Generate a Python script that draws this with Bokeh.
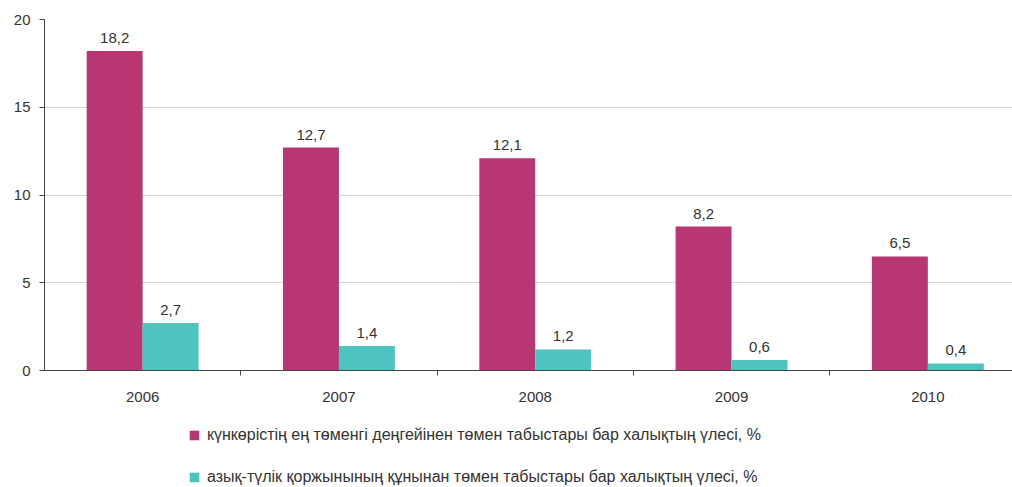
from bokeh.plotting import figure
from bokeh.layouts import column
from bokeh.models import ColumnDataSource, FixedTicker, Range1d, Legend, LegendItem
from bokeh.core.properties import value
from bokeh.embed import file_html
from bokeh.resources import INLINE

years = ["2006", "2007", "2008", "2009", "2010"]
poverty = [18.2, 12.7, 12.1, 8.2, 6.5]
food = [2.7, 1.4, 1.2, 0.6, 0.4]
series_names = [
    "күнкөрістің ең төменгі деңгейінен төмен табыстары бар халықтың үлесі, %",
    "азық-түлік қоржынының құнынан төмен табыстары бар халықтың үлесі, %",
]
y_ticks = [0, 5, 10, 15, 20]

C1 = "#B83773"
C2 = "#4EC4C0"
FONT = "Liberation Sans"
TXT = "#333333"

centers = [i + 0.5 for i in range(len(years))]
bw = 0.285
fmt = lambda v: f"{v:.1f}".replace(".", ",")

s1 = ColumnDataSource(dict(x=[c - bw / 2 for c in centers], y=poverty, lab=[fmt(v) for v in poverty]))
s2 = ColumnDataSource(dict(x=[c + bw / 2 for c in centers], y=food, lab=[fmt(v) for v in food]))

p = figure(width=1012, height=415, output_backend="svg", toolbar_location=None,
           x_range=Range1d(0, 968 / 196.3), y_range=Range1d(0, 20),
           min_border_left=44, min_border_top=19, min_border_right=0, min_border_bottom=45)
p.outline_line_color = None
p.background_fill_color = None
p.border_fill_color = "white"

p.vbar(x="x", top="y", width=bw, source=s1, fill_color=C1, line_color=None)
p.vbar(x="x", top="y", width=bw, source=s2, fill_color=C2, line_color=None)

for s in (s1, s2):
    p.text(x="x", y="y", text="lab", source=s, text_align="center", text_baseline="bottom",
           y_offset=-8, text_font=value(FONT), text_font_size="15px", text_color=TXT)

# axes
p.xgrid.visible = False
p.ygrid.grid_line_color = "#d4d4d4"
p.ygrid.ticker = FixedTicker(ticks=y_ticks[1:])

p.yaxis.ticker = FixedTicker(ticks=y_ticks)
p.yaxis.major_tick_out = 5
p.yaxis.major_tick_in = 0
p.yaxis.minor_tick_line_color = None
p.yaxis.axis_line_color = "#444444"
p.yaxis.major_tick_line_color = "#444444"
p.yaxis.major_label_text_font = FONT
p.yaxis.major_label_text_font_size = "15px"
p.yaxis.major_label_text_color = TXT
p.yaxis.major_label_standoff = 9

p.xaxis.ticker = FixedTicker(ticks=centers, minor_ticks=list(range(1, len(years))))
p.xaxis.major_label_overrides = {c: y for c, y in zip(centers, years)}
p.xaxis.major_tick_line_color = None
p.xaxis.major_tick_out = 5
p.xaxis.minor_tick_out = 5
p.xaxis.minor_tick_in = 0
p.xaxis.minor_tick_line_color = "#444444"
p.xaxis.axis_line_color = "#444444"
p.xaxis.major_label_text_font = FONT
p.xaxis.major_label_text_font_size = "15px"
p.xaxis.major_label_text_color = TXT
p.xaxis.major_label_standoff = 16

# legend panel below the chart (bars there fall outside its visible range)
lg = figure(width=1012, height=72, output_backend="svg", toolbar_location=None,
            x_range=Range1d(0, 968 / 196.3), y_range=Range1d(100, 101),
            x_axis_location=None, y_axis_location=None,
            min_border_left=44, min_border_right=0, min_border_top=0, min_border_bottom=0)
lg.outline_line_color = None
lg.grid.visible = False
lg.background_fill_color = None
lr1 = lg.vbar(x="x", top="y", width=bw, source=s1, fill_color=C1, line_color=None)
lr2 = lg.vbar(x="x", top="y", width=bw, source=s2, fill_color=C2, line_color=None)

legend = Legend(items=[LegendItem(label=series_names[0], renderers=[lr1]),
                       LegendItem(label=series_names[1], renderers=[lr2])],
                location=(144, 1), orientation="vertical",
                glyph_width=12, glyph_height=12, label_height=14, spacing=24,
                padding=0, margin=0, label_standoff=7,
                border_line_color=None, background_fill_alpha=0,
                label_text_font=FONT, label_text_font_size="16px", label_text_color=TXT)
lg.add_layout(legend, "center")

layout = column(p, lg, spacing=0)
open("out.html", "w").write(file_html(layout, INLINE))
